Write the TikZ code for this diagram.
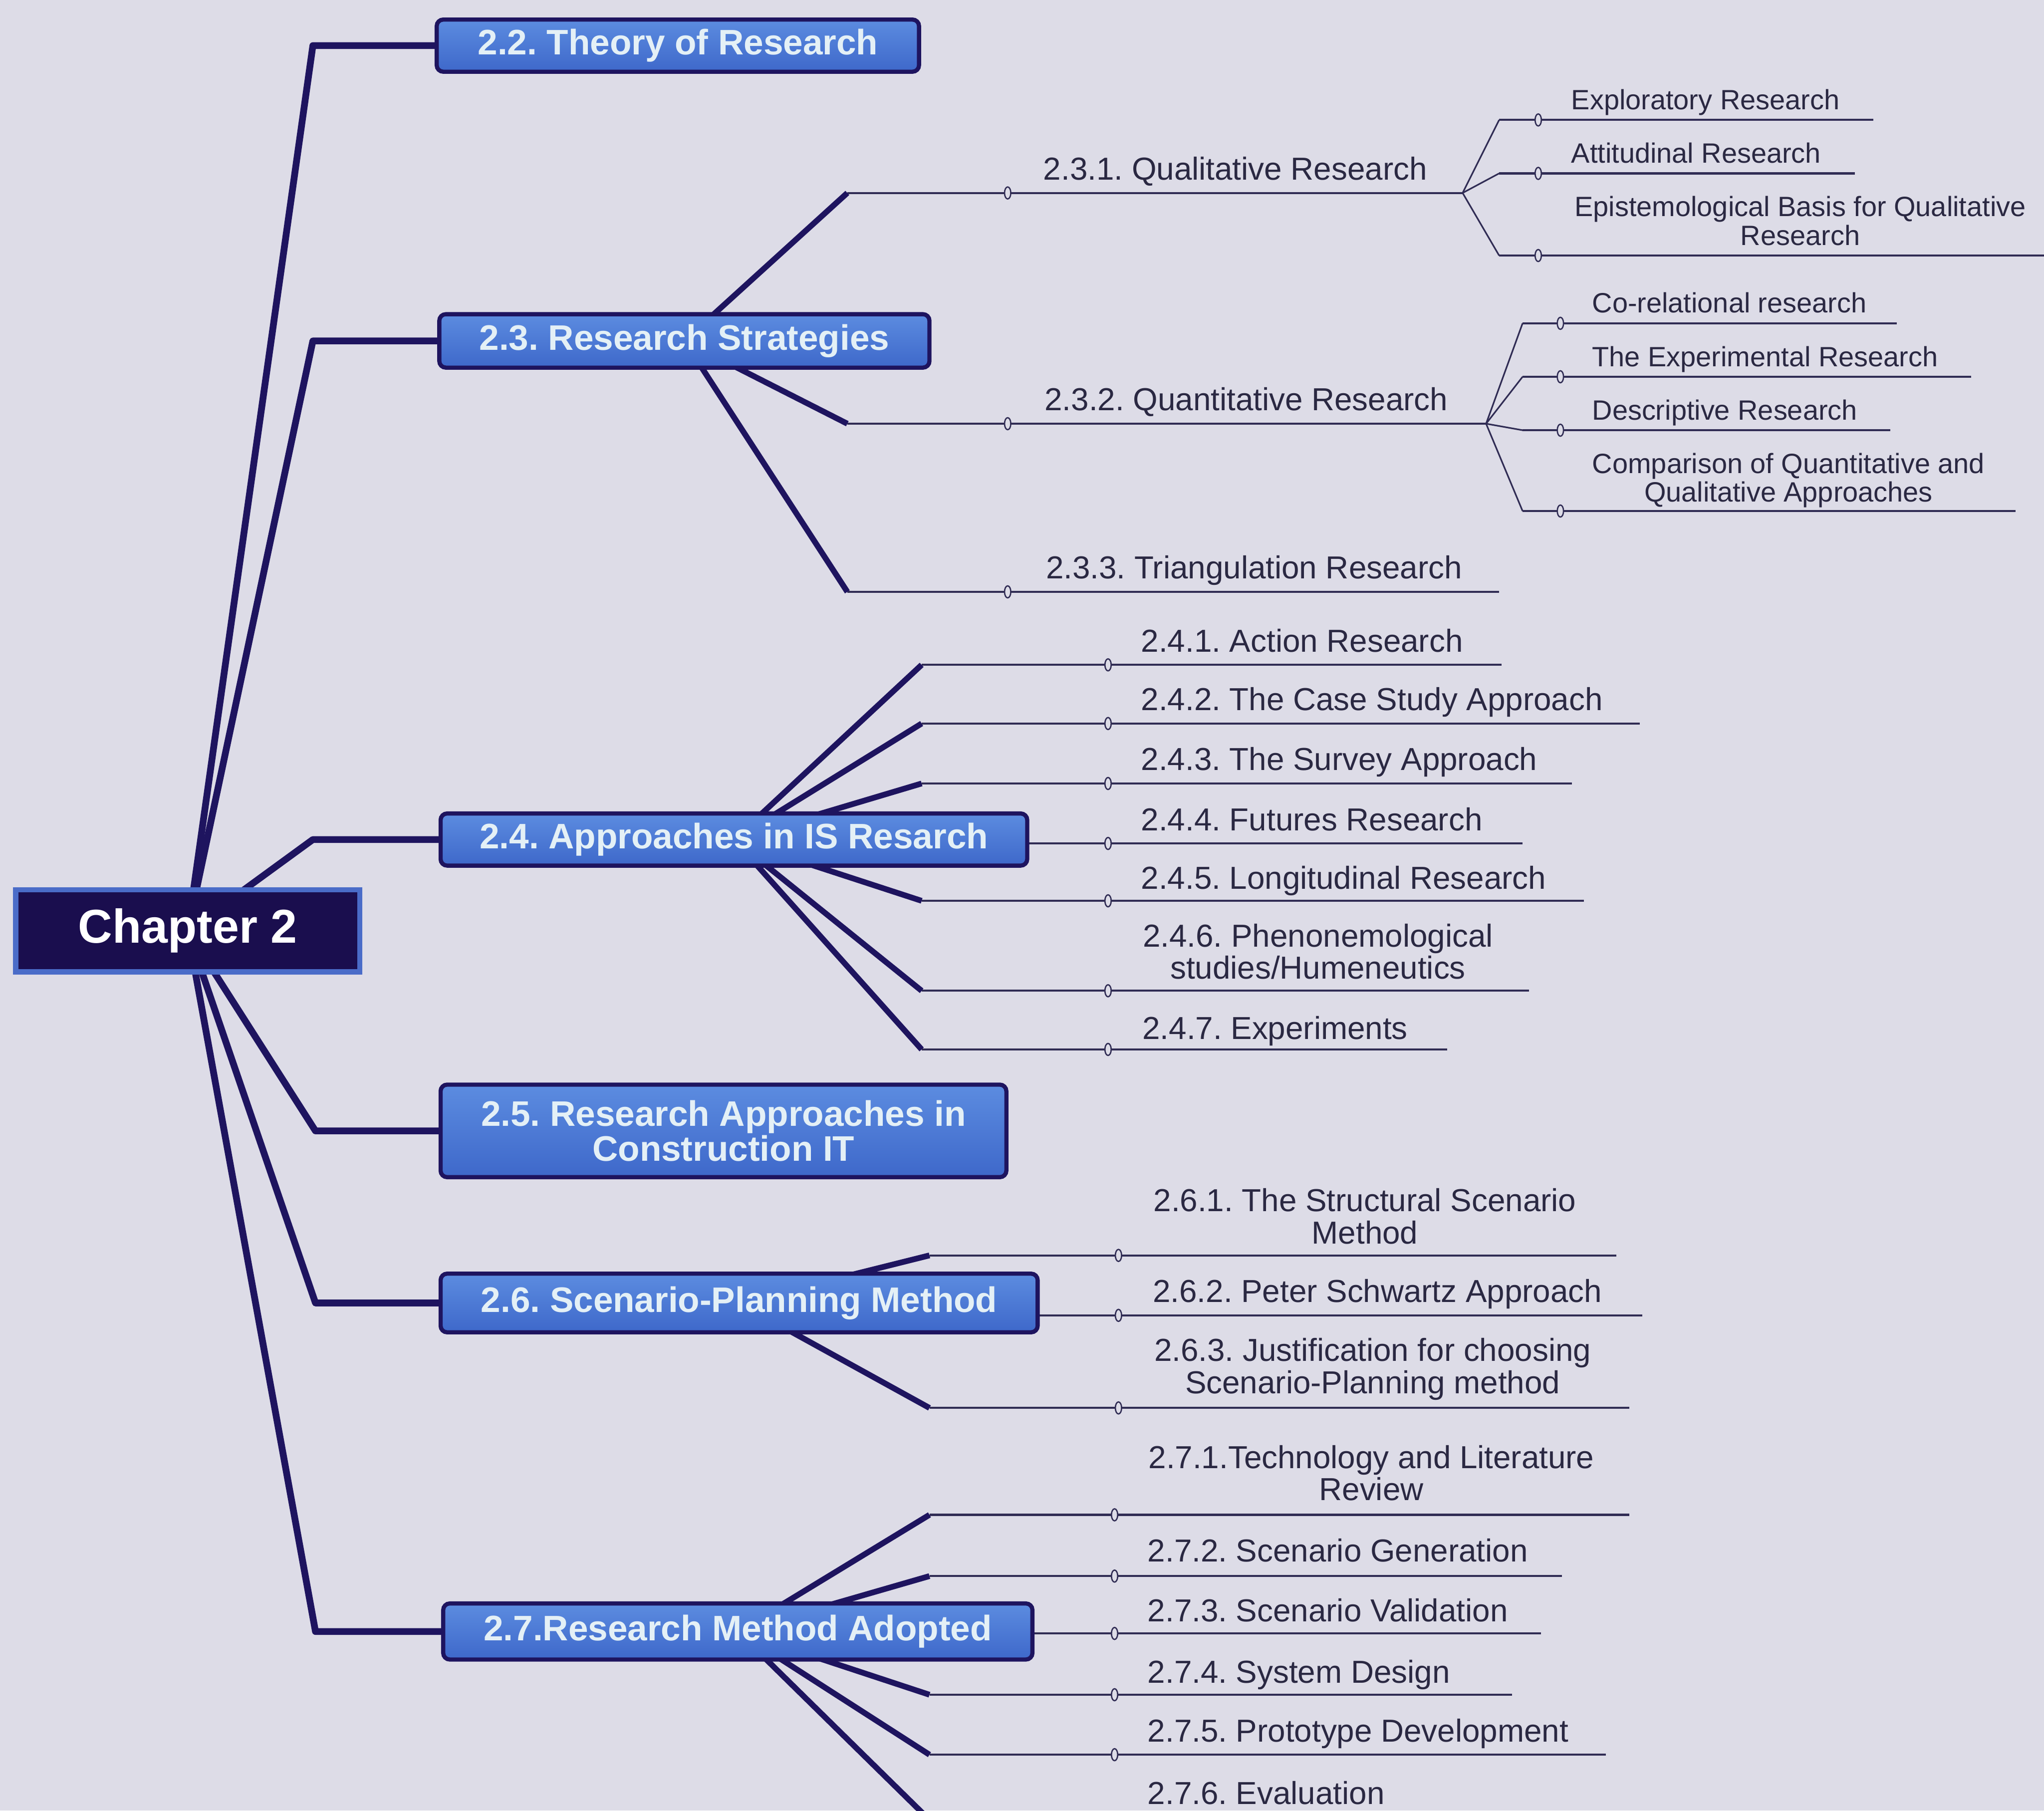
\documentclass[tikz,border=0pt]{standalone}
\usepackage{fontspec}
\setmainfont{Liberation Sans}
\usetikzlibrary{shapes.geometric}
\frenchspacing

\definecolor{paper}{RGB}{221,220,231}
\definecolor{navy}{RGB}{30,20,95}
\definecolor{chapfill}{RGB}{26,14,78}
\definecolor{chapedge}{RGB}{74,108,200}
\definecolor{boxtop}{RGB}{92,140,224}
\definecolor{boxbot}{RGB}{62,104,202}
\definecolor{boxtext}{RGB}{228,240,246}
\definecolor{ink}{RGB}{42,40,66}
\definecolor{wire}{RGB}{48,44,84}

\pgfdeclarelayer{under}
\pgfdeclarelayer{wires}
\pgfsetlayers{under,wires,main}

% two centred lines whose baseline is that of the second line
\newcommand\twolines[2]{\begin{tabular}[b]{@{}c@{}}#1\\#2\end{tabular}}

% horizontal leaf wire: name, start x, y, end x, marker x
\newcommand\leafwire[5]{%
  \coordinate (e#1) at (#2,#3);
  \coordinate (t#1) at (#4,#3);
  \begin{pgfonlayer}{wires}\draw[leafline] (e#1) -- (t#1);\end{pgfonlayer}
  \node[dot] (d#1) at (#5,#3) {};
}

\tikzset{
  chapbox/.style={draw=chapedge, line width=2pt, fill=chapfill, text=white,
    font=\fontsize{18.2}{20}\selectfont\bfseries,
    minimum width=132pt, minimum height=31.5pt, inner sep=0pt},
  secbox/.style={draw=navy, line width=1.6pt, rounded corners=2.5pt,
    top color=boxtop, bottom color=boxbot, text=boxtext,
    font=\fontsize{13.6}{13.5}\selectfont\bfseries, align=center, inner sep=0pt},
  trunk/.style={draw=navy, line width=2.6pt, line join=round},
  twig/.style={draw=navy, line width=2.2pt},
  leafline/.style={draw=wire, line width=0.8pt},
  fine/.style={draw=wire, line width=0.6pt},
  dot/.style={ellipse, draw=wire, line width=0.5pt, fill=paper,
    minimum width=2.4pt, minimum height=4.6pt, inner sep=0pt},
  lbl/.style={text=ink, font=\fontsize{12.2}{11.8}\selectfont, inner sep=0pt},
  sublbl/.style={text=ink, font=\fontsize{10.7}{11}\selectfont, inner sep=0pt},
}

\begin{document}
\begin{tikzpicture}[x=0.5pt, y=-0.5pt]
\useasboundingbox (0,0) rectangle (1568,1389);

\begin{pgfonlayer}{under}
  \fill[paper] (0,0) rectangle (1568,1389);
\end{pgfonlayer}

% root and section boxes
\node[chapbox] (ch) at (144,714) {Chapter 2};
\node[secbox, minimum width=185pt, minimum height=20pt]   (n22) at (520,35)    {2.2. Theory of Research};
\node[secbox, minimum width=188pt, minimum height=20.5pt] (n23) at (525,261.5) {2.3. Research Strategies};
\node[secbox, minimum width=225pt, minimum height=20pt]   (n24) at (563,644)   {2.4. Approaches in IS Resarch};
\node[secbox, minimum width=217pt, minimum height=35.5pt] (n25) at (555,867.5) {2.5. Research Approaches in\\Construction IT};
\node[secbox, minimum width=229pt, minimum height=22.5pt] (n26) at (567,999.5) {2.6. Scenario-Planning Method};
\node[secbox, minimum width=226pt, minimum height=21.5pt] (n27) at (566,1251.5){2.7.Research Method Adopted};

% trunk elbows
\coordinate (k22) at (240,35);
\coordinate (k23) at (240,261.5);
\coordinate (k24) at (240,644);
\coordinate (k25) at (242,867.5);
\coordinate (k26) at (242,999.5);
\coordinate (k27) at (242,1251.5);

\begin{pgfonlayer}{wires}
  \draw[trunk] (ch.center) -- (k22) -- (n22.west);
  \draw[trunk] (ch.center) -- (k23) -- (n23.west);
  \draw[trunk] (ch.center) -- (k24) -- (n24.west);
  \draw[trunk] (ch.center) -- (k25) -- (n25.west);
  \draw[trunk] (ch.center) -- (k26) -- (n26.west);
  \draw[trunk] (ch.center) -- (k27) -- (n27.west);
\end{pgfonlayer}

% ---- 2.3 Research Strategies
\leafwire{231}{650}{148}{1122}{773}
\leafwire{232}{650}{325}{1140}{773}
\leafwire{233}{650}{454}{1150}{773}
\begin{pgfonlayer}{wires}
  \draw[twig] (n23.center) -- (e231);
  \draw[twig] (n23.center) -- (e232);
  \draw[twig] (n23.center) -- (e233);
\end{pgfonlayer}
\node[lbl, anchor=base west] (l231) at (800,138) {2.3.1. Qualitative Research};
\node[lbl, anchor=base west] (l232) at (801,315) {2.3.2. Quantitative Research};
\node[lbl, anchor=base west] (l233) at (802,444) {2.3.3. Triangulation Research};

% qualitative research
\leafwire{qa}{1150}{92}{1437}{1180}
\leafwire{qb}{1150}{133}{1423}{1180}
\leafwire{qc}{1150}{196}{1568}{1180}
\begin{pgfonlayer}{wires}
  \draw[fine] (t231) -- (eqa);
  \draw[fine] (t231) -- (eqb);
  \draw[fine] (t231) -- (eqc);
\end{pgfonlayer}
\node[sublbl, anchor=base west] (lqa) at (1205,84)  {Exploratory Research};
\node[sublbl, anchor=base west] (lqb) at (1205,125) {Attitudinal Research};
\node[sublbl, anchor=base] (lqc) at (1381,188) {\twolines{Epistemological Basis for Qualitative}{Research}};

% quantitative research
\leafwire{na}{1168}{248}{1455}{1197}
\leafwire{nb}{1168}{289}{1512}{1197}
\leafwire{nc}{1168}{330}{1450}{1197}
\leafwire{nd}{1168}{392}{1546}{1197}
\begin{pgfonlayer}{wires}
  \draw[fine] (t232) -- (ena);
  \draw[fine] (t232) -- (enb);
  \draw[fine] (t232) -- (enc);
  \draw[fine] (t232) -- (end);
\end{pgfonlayer}
\node[sublbl, anchor=base west] (lna) at (1221,240) {Co-relational research};
\node[sublbl, anchor=base west] (lnb) at (1221,281) {The Experimental Research};
\node[sublbl, anchor=base west] (lnc) at (1221,322) {Descriptive Research};
\node[sublbl, anchor=base] (lnd) at (1372,385) {\twolines{Comparison of Quantitative and}{Qualitative Approaches}};

% ---- 2.4 Approaches in IS research
\leafwire{241}{707}{510}{1152}{850}
\leafwire{242}{707}{555}{1258}{850}
\leafwire{243}{707}{601}{1206}{850}
\leafwire{244}{788}{647}{1168}{850}
\leafwire{245}{707}{691}{1215}{850}
\leafwire{246}{707}{760}{1173}{850}
\leafwire{247}{707}{805}{1110}{850}
\begin{pgfonlayer}{wires}
  \draw[twig] (n24.center) -- (e241);
  \draw[twig] (n24.center) -- (e242);
  \draw[twig] (n24.center) -- (e243);
  \draw[twig] (n24.center) -- (e245);
  \draw[twig] (n24.center) -- (e246);
  \draw[twig] (n24.center) -- (e247);
\end{pgfonlayer}
\node[lbl, anchor=base west] (l241) at (875,500) {2.4.1. Action Research};
\node[lbl, anchor=base west] (l242) at (875,545) {2.4.2. The Case Study Approach};
\node[lbl, anchor=base west] (l243) at (875,591) {2.4.3. The Survey Approach};
\node[lbl, anchor=base west] (l244) at (875,637) {2.4.4. Futures Research};
\node[lbl, anchor=base west] (l245) at (875,682) {2.4.5. Longitudinal Research};
\node[lbl, anchor=base] (l246) at (1011,751) {\twolines{2.4.6. Phenonemological}{studies/Humeneutics}};
\node[lbl, anchor=base west] (l247) at (876,797) {2.4.7. Experiments};

% ---- 2.6 Scenario-Planning Method
\leafwire{261}{713}{963}{1240}{858}
\leafwire{262}{796}{1009}{1260}{858}
\leafwire{263}{713}{1080}{1250}{858}
\begin{pgfonlayer}{wires}
  \draw[twig] (n26.center) -- (e261);
  \draw[twig] (n26.center) -- (e263);
\end{pgfonlayer}
\node[lbl, anchor=base] (l261) at (1047,954) {\twolines{2.6.1. The Structural Scenario}{Method}};
\node[lbl, anchor=base west] (l262) at (884,999) {2.6.2. Peter Schwartz Approach};
\node[lbl, anchor=base] (l263) at (1053,1069) {\twolines{2.6.3. Justification for choosing}{Scenario-Planning method}};

% ---- 2.7 Research Method Adopted
\leafwire{271}{713}{1162}{1250}{855}
\leafwire{272}{713}{1209}{1198}{855}
\leafwire{273}{792}{1253}{1182}{855}
\leafwire{274}{713}{1300}{1160}{855}
\leafwire{275}{713}{1346}{1232}{855}
\coordinate (e276) at (713,1396);
\coordinate (t276) at (1100,1396);
\begin{pgfonlayer}{wires}
  \draw[twig] (n27.center) -- (e271);
  \draw[twig] (n27.center) -- (e272);
  \draw[twig] (n27.center) -- (e274);
  \draw[twig] (n27.center) -- (e275);
  \draw[twig] (n27.center) -- (e276);
  \draw[leafline] (e276) -- (t276);
\end{pgfonlayer}
\node[lbl, anchor=base] (l271) at (1052,1151) {\twolines{2.7.1.Technology and Literature}{Review}};
\node[lbl, anchor=base west] (l272) at (880,1198) {2.7.2. Scenario Generation};
\node[lbl, anchor=base west] (l273) at (880,1244) {2.7.3. Scenario Validation};
\node[lbl, anchor=base west] (l274) at (880,1291) {2.7.4. System Design};
\node[lbl, anchor=base west] (l275) at (880,1336) {2.7.5. Prototype Development};
\node[lbl, anchor=base west] (l276) at (880,1384) {2.7.6. Evaluation};

\end{tikzpicture}
\end{document}
